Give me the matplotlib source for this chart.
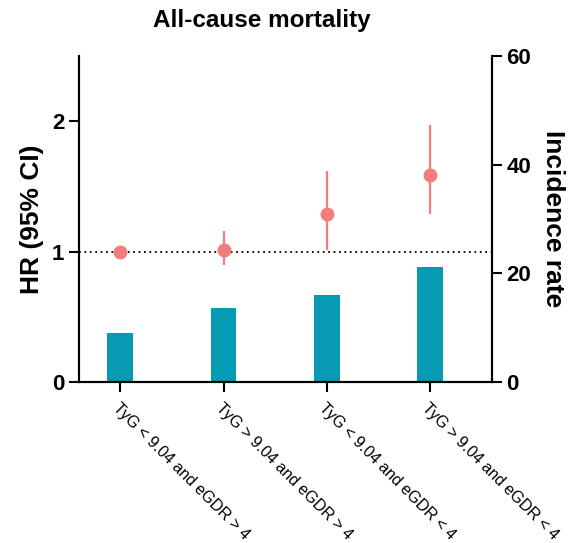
import matplotlib
matplotlib.use("Agg")
import matplotlib.pyplot as plt

plt.rcParams['font.family'] = ['Liberation Sans', 'DejaVu Sans']

categories = ["TyG < 9.04 and eGDR > 4", "TyG > 9.04 and eGDR > 4",
              "TyG < 9.04 and eGDR < 4", "TyG > 9.04 and eGDR < 4"]
hr = [1.00, 1.015, 1.285, 1.59]
hr_low = [1.00, 0.895, 1.015, 1.285]
hr_high = [1.00, 1.155, 1.62, 1.97]
incidence = [9.0, 13.7, 16.0, 21.2]

bar_color = "#079AB3"
pt_color = "#F47C7C"

fig = plt.figure(figsize=(5.75, 5.43), dpi=100)
ax = fig.add_axes([79/575, 1-382/543, (492-79)/575, (382-56)/543])
ax2 = ax.twinx()

x = list(range(len(categories)))
ax2.bar(x, incidence, width=0.25, color=bar_color, zorder=2)
ax2.set_ylim(0, 60)
ax2.set_yticks([0, 20, 40, 60])

ax.set_zorder(ax2.get_zorder() + 1)
ax.patch.set_visible(False)

yerr = [[h - l for h, l in zip(hr, hr_low)], [u - h for h, u in zip(hr, hr_high)]]
ax.errorbar(x, hr, yerr=yerr, fmt='o', color=pt_color, ecolor=pt_color,
            markersize=9, elinewidth=1.6, capsize=0, zorder=4)
ax.axhline(1, color='black', linestyle=(0, (1, 2)), linewidth=1.3, zorder=3)

ax.set_xlim(-0.40, 3.60)
ax.set_ylim(0, 2.5)
ax.set_yticks([0, 1, 2])
ax.set_xticks(x)
ax.set_xticklabels(categories, rotation=-45, ha='left', rotation_mode='anchor',
                   fontsize=11.5)

for a in (ax, ax2):
    a.spines['top'].set_visible(False)
    for s in ('left', 'right', 'bottom'):
        a.spines[s].set_linewidth(1.5)
    a.tick_params(width=1.5, length=7, labelsize=16)
for lab in ax.get_yticklabels() + ax2.get_yticklabels():
    lab.set_fontweight('bold')
ax.tick_params(axis='x', labelsize=11.5, length=7, pad=6)

ax.set_ylabel("HR (95% CI)", fontsize=19, fontweight='bold', labelpad=6)
ax2.set_ylabel("Incidence rate", fontsize=19, fontweight='bold', rotation=270,
               labelpad=24)
fig.text(262/575, 1-20/543, "All-cause mortality", fontsize=17.5, fontweight='bold',
         ha='center', va='center')

fig.savefig("out.png", dpi=100)
